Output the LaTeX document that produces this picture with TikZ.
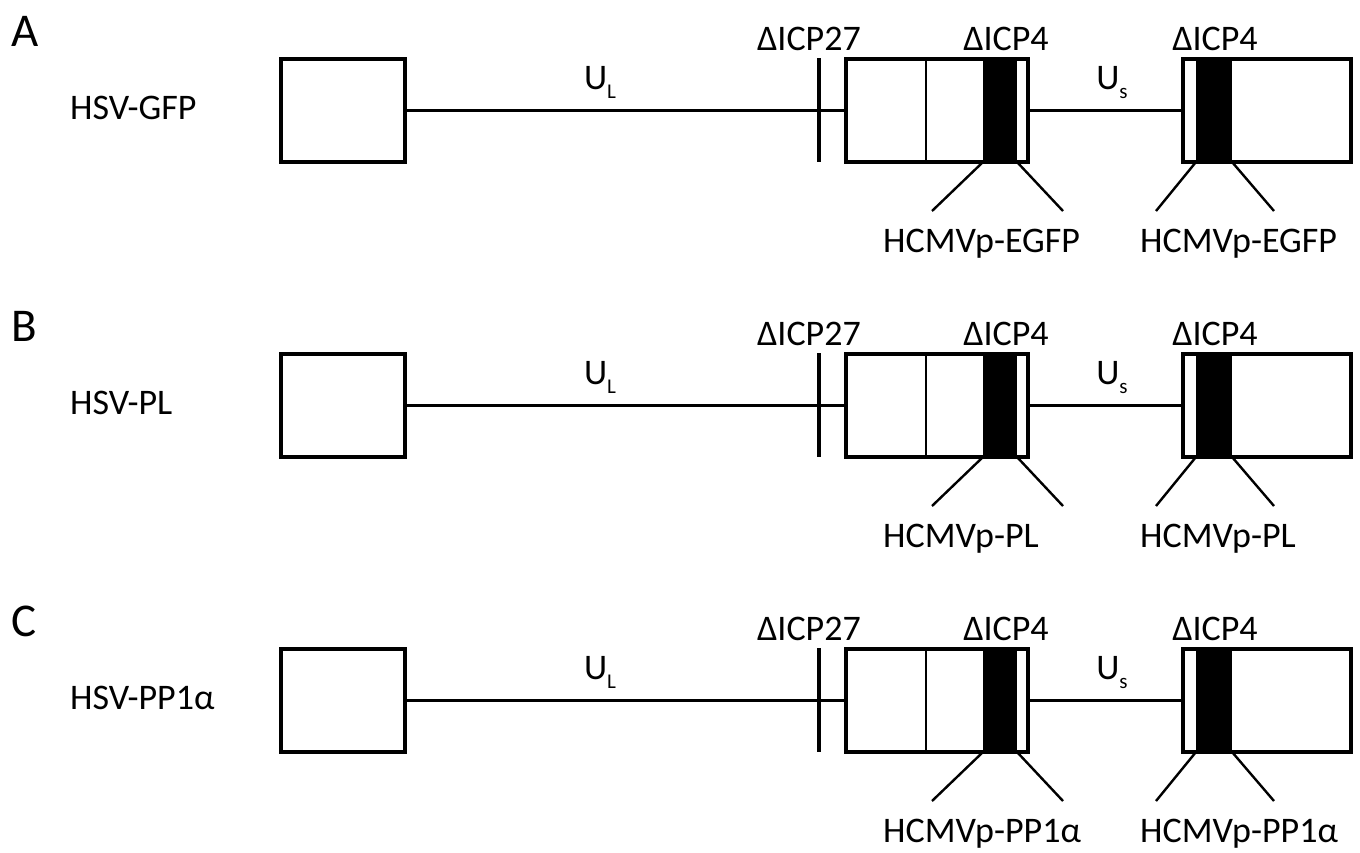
\documentclass[tikz,border=0pt]{standalone}
\usepackage{fontspec}
\setmainfont{Carlito}
\begin{document}
\begin{tikzpicture}[x=1pt,y=-1pt,
  box/.style={draw,line width=3.2pt,rectangle,inner sep=0pt,minimum height=103pt},
  band/.style={fill=black,draw=none,rectangle,inner sep=0pt,minimum height=103pt},
  genome/.style={line width=3.2pt},
  thinline/.style={line width=1.8pt},
  diag/.style={line width=2.4pt},
  txt/.style={font=\fontsize{36}{40}\selectfont,inner sep=0pt},
  letter/.style={font=\fontsize{47}{50}\selectfont,inner sep=0pt,anchor=base west}]
\useasboundingbox (0,0) rectangle (1360,852);
\foreach \k/\nm/\lt/\ins in {0/HSV-GFP/A/EGFP,1/HSV-PL/B/PL,2/HSV-PP1α/C/PP1α}{
  \begin{scope}[shift={(0,295*\k)}]
    % panel letter and virus name
    \node[letter] (let\k) at (11,46) {\lt};
    \node[txt,anchor=base west] (name\k) at (70,119) {\nm};
    % black bands
    \node[band,minimum width=34pt] (bandm\k) at (1000,110.5) {};
    \node[band,minimum width=36pt] (bandr\k) at (1214,110.5) {};
    % boxes
    \node[box,minimum width=124pt] (lbox\k) at (343,110.5) {};
    \node[box,minimum width=182pt] (mbox\k) at (937,110.5) {};
    \node[box,minimum width=168pt] (rbox\k) at (1267,110.5) {};
    % inner line of middle box
    \draw[thinline] (926,60) -- (926,161);
    % genome line with ICP27 tick
    \coordinate (ttop\k) at (819,58);
    \coordinate (tbot\k) at (819,162);
    \draw[genome] (lbox\k.east) -- (mbox\k.west);
    \draw[genome] (ttop\k) -- (tbot\k);
    \draw[genome] (mbox\k.east) -- (rbox\k.west);
    % diagonals to inserts
    \coordinate (m1\k) at (932,211);
    \coordinate (m2\k) at (1063,211);
    \coordinate (r1\k) at (1156,211);
    \coordinate (r2\k) at (1274,211);
    \draw[diag] (bandm\k.south west) -- (m1\k);
    \draw[diag] (bandm\k.south east) -- (m2\k);
    \draw[diag] (bandr\k.south west) -- (r1\k);
    \draw[diag] (bandr\k.south east) -- (r2\k);
    % labels
    \node[txt,anchor=base] (ul\k) at (600,89) {U\raisebox{-0.25em}{\fontsize{21}{21}\selectfont L}};
    \node[txt,anchor=base] (us\k) at (1112,89) {U\raisebox{-0.25em}{\fontsize{21}{21}\selectfont s}};
    \node[txt,anchor=base] (d27\k) at (809,50) {ΔICP27};
    \node[txt,anchor=base] (d4a\k) at (1006,50) {ΔICP4};
    \node[txt,anchor=base] (d4b\k) at (1215,50) {ΔICP4};
    \node[txt,anchor=base west] (insm\k) at (883,252) {HCMVp-\ins};
    \node[txt,anchor=base west] (insr\k) at (1140,252) {HCMVp-\ins};
  \end{scope}
}
\end{tikzpicture}
\end{document}
